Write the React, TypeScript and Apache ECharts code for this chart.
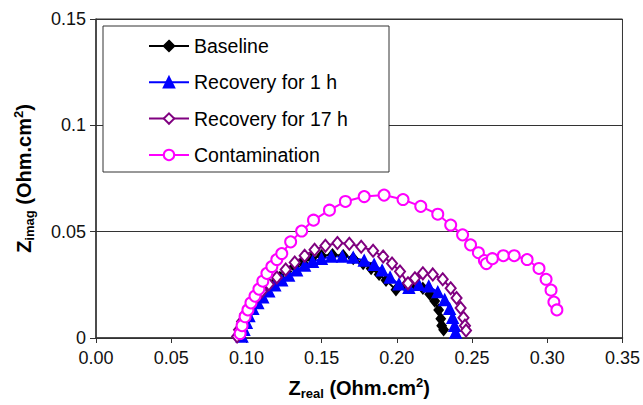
import React, { useEffect, useRef } from "react";
import * as echarts from "echarts";

const seriesNames = ["Baseline", "Recovery for 1 h", "Recovery for 17 h", "Contamination"];

const baselineX = [0.0951, 0.0971, 0.0994, 0.1017, 0.105, 0.1076, 0.1109, 0.1142, 0.1182, 0.1222, 0.1268, 0.1321, 0.1374, 0.1433, 0.1499, 0.1572, 0.1644, 0.171, 0.1776, 0.1829, 0.1882, 0.1928, 0.1994, 0.2054, 0.212, 0.2173, 0.2219, 0.2252, 0.2278, 0.2292, 0.2298, 0.2311];
const baselineY = [0.0012, 0.0044, 0.0081, 0.0118, 0.0151, 0.0183, 0.0206, 0.023, 0.0257, 0.0285, 0.0313, 0.0336, 0.0355, 0.0374, 0.0387, 0.0392, 0.0387, 0.0374, 0.035, 0.0327, 0.0299, 0.0271, 0.0227, 0.0246, 0.025, 0.0234, 0.0206, 0.0174, 0.0132, 0.009, 0.0058, 0.0039];

const rec1X = [0.0971, 0.0984, 0.1, 0.1017, 0.1043, 0.1076, 0.1109, 0.1149, 0.1189, 0.1235, 0.1281, 0.1334, 0.1387, 0.144, 0.1499, 0.1565, 0.1638, 0.171, 0.1783, 0.1849, 0.1902, 0.1955, 0.2014, 0.208, 0.2146, 0.2212, 0.2272, 0.2318, 0.2351, 0.2371, 0.2384, 0.2391];
const rec1Y = [0.0007, 0.0039, 0.0072, 0.0104, 0.0137, 0.0165, 0.0192, 0.022, 0.0248, 0.0271, 0.0294, 0.0318, 0.0341, 0.0359, 0.0373, 0.0383, 0.0383, 0.0378, 0.0364, 0.0345, 0.0318, 0.0285, 0.0253, 0.0236, 0.025, 0.0243, 0.0216, 0.0179, 0.0137, 0.0095, 0.0058, 0.0026];

const rec17X = [0.0938, 0.0951, 0.0971, 0.0994, 0.1024, 0.1063, 0.1103, 0.1149, 0.1202, 0.1261, 0.1321, 0.1387, 0.1453, 0.1525, 0.1605, 0.1684, 0.1763, 0.1842, 0.1909, 0.1968, 0.2021, 0.2074, 0.212, 0.2173, 0.2239, 0.2305, 0.2358, 0.2397, 0.2424, 0.2443, 0.2453, 0.246];
const rec17Y = [0.0007, 0.0039, 0.0077, 0.0114, 0.0151, 0.0188, 0.022, 0.0253, 0.0285, 0.0322, 0.0355, 0.0387, 0.0415, 0.0434, 0.0447, 0.0443, 0.0429, 0.041, 0.0383, 0.035, 0.0313, 0.0257, 0.0281, 0.0304, 0.0299, 0.0276, 0.0234, 0.0188, 0.0141, 0.0095, 0.0058, 0.0035];

const contX = [0.0958, 0.0971, 0.0991, 0.101, 0.103, 0.1057, 0.1083, 0.1109, 0.1136, 0.1169, 0.1202, 0.1235, 0.1294, 0.1367, 0.1446, 0.1552, 0.1658, 0.1783, 0.1915, 0.2041, 0.2159, 0.2272, 0.2358, 0.2437, 0.249, 0.2542, 0.2582, 0.2595, 0.2635, 0.2708, 0.278, 0.2866, 0.2945, 0.2992, 0.3025, 0.3044, 0.3064];
const contY = [0.0021, 0.0058, 0.01, 0.0132, 0.0165, 0.0197, 0.023, 0.0267, 0.0304, 0.0336, 0.0369, 0.0397, 0.0452, 0.0503, 0.0554, 0.0601, 0.0642, 0.0665, 0.0672, 0.0651, 0.0619, 0.0582, 0.0531, 0.0485, 0.0438, 0.0401, 0.0364, 0.035, 0.0373, 0.0387, 0.0387, 0.0369, 0.0327, 0.0276, 0.0225, 0.0169, 0.0132];

const xTicks = [0, 0.05, 0.1, 0.15, 0.2, 0.25, 0.3, 0.35];
const yTicks = [0, 0.05, 0.1, 0.15];

const zip = (xs: number[], ys: number[]) => xs.map((x, i) => [x, ys[i]]);

const FONT = "Liberation Sans, Arial, sans-serif";

const richName = {
  b: { fontSize: 20, fontWeight: "bold", fontFamily: FONT, color: "#000", lineHeight: 24 },
  s: { fontSize: 13, fontWeight: "bold", fontFamily: FONT, color: "#000", lineHeight: 12, verticalAlign: "bottom" },
  p: { fontSize: 13, fontWeight: "bold", fontFamily: FONT, color: "#000", lineHeight: 12, verticalAlign: "top" },
};

export default function App() {
  const ref = useRef<HTMLDivElement>(null);
  useEffect(() => {
    if (!ref.current) return;
    const chart = echarts.init(ref.current, undefined, { renderer: "svg" });
    const mk = (name: string, xs: number[], ys: number[], color: string, symbol: string, size: number | number[]) => ({
      name,
      type: "line",
      data: zip(xs, ys),
      symbol,
      symbolSize: size,
      showSymbol: true,
      lineStyle: { color, width: 2 },
      itemStyle: { color, borderColor: color, borderWidth: 1.5 },
      emphasis: { disabled: true },
      z: 2,
    });
    chart.setOption({
      animation: false,
      backgroundColor: "#fff",
      grid: { left: 96, right: 18, top: 19, bottom: 62.5, show: true, borderColor: "#333", borderWidth: 1, backgroundColor: "transparent" },
      xAxis: {
        type: "value",
        min: xTicks[0],
        max: xTicks[xTicks.length - 1],
        interval: 0.05,
        axisLine: { show: true, lineStyle: { color: "#333", width: 1.5 } },
        axisTick: { show: true, inside: false, length: 5, lineStyle: { color: "#333" } },
        axisLabel: { fontSize: 18, fontFamily: FONT, color: "#111", margin: 11, formatter: (v: number) => v.toFixed(2) },
        splitLine: { show: false },
        name: "{b|Z}{s|real}{b| (Ohm.cm}{p|2}{b|)}",
        nameLocation: "middle",
        nameGap: 38,
        nameTextStyle: { rich: richName },
      },
      yAxis: {
        type: "value",
        min: yTicks[0],
        max: yTicks[yTicks.length - 1],
        interval: 0.05,
        axisLine: { show: true, lineStyle: { color: "#333", width: 1.5 } },
        axisTick: { show: true, inside: false, length: 6, lineStyle: { color: "#333" } },
        axisLabel: { fontSize: 18, fontFamily: FONT, color: "#111", margin: 10 },
        splitLine: { show: true, lineStyle: { color: "#333", width: 1 } },
        name: "{b|Z}{s|imag}{b| (Ohm.cm}{p|2}{b|)}",
        nameLocation: "middle",
        nameGap: 60,
        nameTextStyle: { rich: richName },
      },
      legend: {
        orient: "vertical",
        left: 143,
        top: 31,
        itemWidth: 40,
        itemHeight: 13,
        itemGap: 16.3,
        textStyle: { fontSize: 19.5, fontFamily: FONT, color: "#000", lineHeight: 18 },
        data: seriesNames,
        selectedMode: false,
        z: 20,
      },
      graphic: [
        {
          type: "rect",
          z: 10,
          shape: { x: 103, y: 26, width: 286, height: 146 },
          style: { fill: "#fff", stroke: "#333", lineWidth: 1 },
        },
      ],
      series: [
        mk(seriesNames[0], baselineX, baselineY, "#000000", "diamond", [9, 11]),
        mk(seriesNames[1], rec1X, rec1Y, "#0000ff", "triangle", 11),
        mk(seriesNames[2], rec17X, rec17Y, "#800080", "emptyDiamond", [10, 12]),
        mk(seriesNames[3], contX, contY, "#ff00ff", "emptyCircle", 11),
      ],
    });
    return () => chart.dispose();
  }, []);
  return <div ref={ref} style={{ width: 643, height: 405, position: "absolute", left: 0, top: 0 }} />;
}
